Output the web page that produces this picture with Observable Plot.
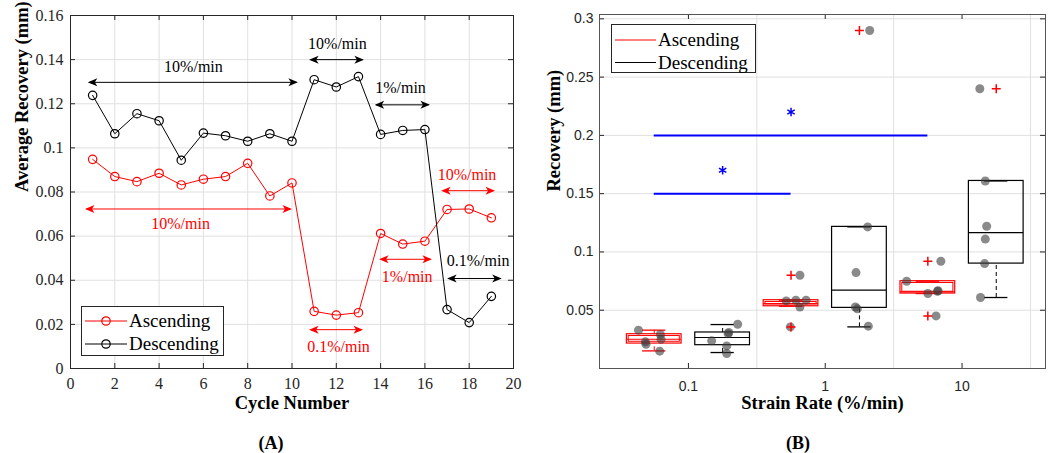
<!DOCTYPE html>
<html>
<head>
<meta charset="utf-8">
<script src="https://cdn.jsdelivr.net/npm/d3@7"></script>
<script src="https://cdn.jsdelivr.net/npm/@observablehq/plot@0.6"></script>
<style>
  body { margin: 0; background: #fff; }
  #wrap { position: relative; width: 1057px; height: 453px; overflow: hidden; font-family: "Liberation Serif", serif; background: #fff; }
  .panel { position: absolute; top: 0; }
  .legend { position: absolute; background: #fff; border: 1px solid #262626; box-sizing: border-box; }
  .legend svg { position: absolute; left: 0; top: 0; }
  .legend span { position: absolute; font-family: "Liberation Serif", serif; font-size: 19px; line-height: 22px; white-space: nowrap; color: #000; }
  .cap { position: absolute; top: 434px; font-family: "Liberation Serif", serif; font-weight: bold; font-size: 18px; line-height: 18px; transform: translateX(-50%); color: #000; }
</style>
</head>
<body>
<div id="wrap">
  <div class="panel" id="panelA" style="left:0px"></div>
  <div class="panel" id="panelB" style="left:530px"></div>

  <div class="legend" style="left:81px;top:306px;width:143px;height:50px;">
    <svg width="50" height="50">
      <line x1="3" x2="45" y1="14" y2="14" stroke="#ff0000" stroke-width="1"/>
      <circle cx="24" cy="14" r="4.2" fill="none" stroke="#ff0000" stroke-width="1.2"/>
      <line x1="3" x2="45" y1="37" y2="37" stroke="#000" stroke-width="1"/>
      <circle cx="24" cy="37" r="4.2" fill="none" stroke="#000" stroke-width="1.2"/>
    </svg>
    <span style="left:47px;top:3px">Ascending</span>
    <span style="left:47px;top:26px">Descending</span>
  </div>

  <div class="legend" style="left:611px;top:24px;width:145px;height:49px;">
    <svg width="50" height="49">
      <line x1="3" x2="44" y1="15" y2="15" stroke="#ff0000" stroke-width="1"/>
      <line x1="3" x2="44" y1="37.5" y2="37.5" stroke="#000" stroke-width="1"/>
    </svg>
    <span style="left:46px;top:4px">Ascending</span>
    <span style="left:46px;top:26.5px">Descending</span>
  </div>

  <div class="cap" style="left:271px">(A)</div>
  <div class="cap" style="left:798px">(B)</div>
</div>

<script>
// ---------------- Panel A data ----------------
const cycles = [1, 2, 3, 4, 5, 6, 7, 8, 9, 10, 11, 12, 13, 14, 15, 16, 17, 18, 19];
const ascending = [0.0948, 0.0870, 0.0847, 0.0885, 0.0832, 0.0858, 0.0870, 0.0930, 0.0782, 0.0841,
                   0.0259, 0.0242, 0.0253, 0.0612, 0.0564, 0.0577, 0.0721, 0.0723, 0.0683];
const descending = [0.1238, 0.1064, 0.1155, 0.1123, 0.0944, 0.1067, 0.1055, 0.1030, 0.1064, 0.1030,
                    0.1309, 0.1276, 0.1323, 0.1061, 0.1079, 0.1083, 0.0267, 0.0208, 0.0327];
const seriesNames = ["Ascending", "Descending"];
const seriesColors = ["#ff0000", "#000000"];

const arrowSeries = ["Descending", "Descending", "Descending", "Descending", "Ascending", "Ascending", "Ascending", "Ascending"];
const arrowStart = [0.85, 10.84, 13.8, 17.07, 0.72, 16.8, 14.0, 10.84];
const arrowEnd = [10.2, 13.18, 16.16, 19.4, 9.93, 19.1, 16.25, 13.14];
const arrowLevel = [0.1297, 0.140, 0.1195, 0.0408, 0.0723, 0.0806, 0.0495, 0.0176];
const rateText = ["10%/min", "10%/min", "1%/min", "0.1%/min", "10%/min", "10%/min", "1%/min", "0.1%/min"];
const rateTextX = [5.55, 12.05, 14.9, 18.4, 4.97, 17.9, 15.2, 12.1];
const rateTextY = [0.1367, 0.147, 0.127, 0.0488, 0.0655, 0.0877, 0.0415, 0.0100];

const xTicksA = [0, 2, 4, 6, 8, 10, 12, 14, 16, 18, 20];
const yTicksA = [0, 0.02, 0.04, 0.06, 0.08, 0.1, 0.12, 0.14, 0.16];
const yTickLabelsA = ["0", "0.02", "0.04", "0.06", "0.08", "0.1", "0.12", "0.14", "0.16"];

// ---------------- Panel B data ----------------
const boxPos = [1, 2, 3, 4, 5, 6];
const boxSeries = ["Ascending", "Descending", "Ascending", "Descending", "Ascending", "Descending"];
const boxQ1 = [0.0214, 0.0200, 0.0534, 0.0520, 0.0643, 0.0900];
const boxMedian = [0.0251, 0.0266, 0.0556, 0.0672, 0.0657, 0.1166];
const boxQ3 = [0.0294, 0.0309, 0.0586, 0.1215, 0.0749, 0.1609];
const whiskerLow = [0.0151, 0.0137, 0.0534, 0.0357, 0.0643, 0.0609];
const whiskerHigh = [0.0329, 0.0377, 0.0586, 0.1215, 0.0749, 0.1609];

const outlierPos = [3, 3, 4, 5, 5, 6];
const outlierValue = [0.080, 0.0357, 0.290, 0.092, 0.0451, 0.240];

const pointPos = [0.77, 0.87, 0.88, 1.09, 1.10, 1.08,
                  2.22, 2.09, 2.08, 1.84, 2.06, 2.06,
                  2.93, 3.07, 3.22, 3.13, 3.13, 2.99,
                  4.12, 3.95, 3.94, 3.97, 4.13, 4.15,
                  5.19, 4.69, 5.00, 5.14, 5.15, 5.12,
                  5.84, 5.86, 5.84, 5.83, 5.77, 5.76];
const pointValue = [0.0329, 0.0229, 0.0208, 0.0292, 0.0250, 0.0149,
                    0.0380, 0.0309, 0.0298, 0.0237, 0.0194, 0.0129,
                    0.0580, 0.0586, 0.0586, 0.0800, 0.0528, 0.0357,
                    0.1215, 0.0823, 0.0528, 0.0512, 0.0363, 0.2900,
                    0.0920, 0.0749, 0.0643, 0.0663, 0.0667, 0.0451,
                    0.1609, 0.1220, 0.1110, 0.0900, 0.0609, 0.2400];

const sigStart = [1, 1];
const sigEnd = [3, 5];
const sigLevel = [0.15, 0.20];
const starPos = [2, 3];
const starValue = [0.17, 0.22];

const rateTickPos = [1.5, 3.5, 5.5];
const rateTickLabels = ["0.1", "1", "10"];
const gridPosB = [2.5, 4.5, 6.5];
const yTicksB = [0.05, 0.1, 0.15, 0.2, 0.25, 0.3];
const yTickLabelsB = ["0.05", "0.1", "0.15", "0.2", "0.25", "0.3"];

// ---------------- tables ----------------
const tableA = [
  ...cycles.map((c, i) => ({cycle: c, value: ascending[i], series: "Ascending"})),
  ...cycles.map((c, i) => ({cycle: c, value: descending[i], series: "Descending"}))
];
const arrows = arrowStart.map((s, i) => ({x1: s, x2: arrowEnd[i], y: arrowLevel[i], series: arrowSeries[i],
  text: rateText[i], tx: rateTextX[i], ty: rateTextY[i]}));
const boxes = boxPos.map((p, i) => ({pos: p, series: boxSeries[i], q1: boxQ1[i], med: boxMedian[i], q3: boxQ3[i],
  lo: whiskerLow[i], hi: whiskerHigh[i]}));
const outliers = outlierPos.map((p, i) => ({pos: p, value: outlierValue[i]}));
const points = pointPos.map((p, i) => ({pos: p, value: pointValue[i]}));
const sigs = sigStart.map((s, i) => ({x1: s, x2: sigEnd[i], y: sigLevel[i]}));
const stars = starPos.map((p, i) => ({pos: p, value: starValue[i]}));

const serif = "Liberation Serif, Times New Roman, serif";
const axisColor = "#262626";
const gridColor = "#e0e0e0";

// ---------------- Panel A ----------------
const WA = 530, HA = 425, mLA = 70, mRA = 17, mTA = 15, mBA = 57;
const phA = HA - mTA - mBA, pwA = WA - mLA - mRA;
const plotA = Plot.plot({
  width: WA, height: HA,
  marginLeft: mLA, marginRight: mRA, marginTop: mTA, marginBottom: mBA,
  style: {fontFamily: serif, fontSize: "16px", color: axisColor, background: "white"},
  x: {domain: [0, 20], ticks: xTicksA, tickSize: 0, tickPadding: 9, label: null},
  y: {domain: [0, 0.16], ticks: yTicksA, tickFormat: d => yTickLabelsA[yTicksA.indexOf(d)], tickSize: 0, tickPadding: 7, label: null},
  color: {domain: seriesNames, range: seriesColors},
  marks: [
    Plot.ruleX(xTicksA, {x: d => d, stroke: gridColor}),
    Plot.ruleY(yTicksA, {y: d => d, stroke: gridColor}),
    Plot.ruleX(xTicksA, {x: d => d, stroke: axisColor, insetBottom: phA - 5}),
    Plot.ruleX(xTicksA, {x: d => d, stroke: axisColor, insetTop: phA - 5}),
    Plot.ruleY(yTicksA, {y: d => d, stroke: axisColor, insetRight: pwA - 5}),
    Plot.ruleY(yTicksA, {y: d => d, stroke: axisColor, insetLeft: pwA - 5}),
    Plot.line(tableA, {x: "cycle", y: "value", stroke: "series", strokeWidth: 1}),
    Plot.dot(tableA, {x: "cycle", y: "value", stroke: "series", r: 4.2, fill: "none", strokeWidth: 1.2}),
    Plot.link(arrows, {x1: "x1", x2: "x2", y1: "y", y2: "y", stroke: "series", strokeWidth: 1}),
    Plot.text(arrows, {x: "tx", y: "ty", text: "text", fill: "series", fontSize: 16, fontFamily: serif}),
    Plot.frame({stroke: axisColor}),
    Plot.text(["Cycle Number"], {frameAnchor: "bottom", dy: 40, text: d => d, fontFamily: serif, fontWeight: "bold", fontSize: 18.5, fill: "#000"}),
    Plot.text(["Average Recovery (mm)"], {frameAnchor: "left", dx: -48, rotate: -90, text: d => d, fontFamily: serif, fontWeight: "bold", fontSize: 18.5, fill: "#000"})
  ]
});
document.getElementById("panelA").appendChild(plotA);

// custom filled double arrowheads
(function () {
  const svg = plotA.tagName.toLowerCase() === "svg" ? plotA : plotA.querySelector("svg");
  const ns = "http://www.w3.org/2000/svg";
  const defs = document.createElementNS(ns, "defs");
  svg.insertBefore(defs, svg.firstChild);
  const made = {};
  let k = 0;
  svg.querySelectorAll('g[aria-label="link"] path').forEach(p => {
    const col = p.getAttribute("stroke") || p.parentNode.getAttribute("stroke") || "#000";
    if (!made[col]) {
      const id = "arrowhead" + (k++);
      const m = document.createElementNS(ns, "marker");
      m.setAttribute("id", id);
      m.setAttribute("viewBox", "-9 -4.5 10.5 9");
      m.setAttribute("refX", "0");
      m.setAttribute("refY", "0");
      m.setAttribute("markerWidth", "10.5");
      m.setAttribute("markerHeight", "9");
      m.setAttribute("markerUnits", "userSpaceOnUse");
      m.setAttribute("orient", "auto-start-reverse");
      const path = document.createElementNS(ns, "path");
      path.setAttribute("d", "M1.5,0L-8,-4L-5.5,0L-8,4Z");
      path.setAttribute("fill", col);
      m.appendChild(path);
      defs.appendChild(m);
      made[col] = id;
    }
    p.setAttribute("marker-start", `url(#${made[col]})`);
    p.setAttribute("marker-end", `url(#${made[col]})`);
  });
})();

// ---------------- Panel B ----------------
const WB = 527, HB = 425, mLB = 69, mRB = 12, mTB = 14, mBB = 57;
const phB = HB - mTB - mBB, pwB = WB - mLB - mRB;
const half = 0.4, cap = 0.17;
const plotB = Plot.plot({
  width: WB, height: HB,
  marginLeft: mLB, marginRight: mRB, marginTop: mTB, marginBottom: mBB,
  style: {fontFamily: "Liberation Sans, Arial, sans-serif", fontSize: "14px", color: axisColor, background: "white"},
  x: {domain: [0.2, 6.72], ticks: rateTickPos, tickFormat: d => rateTickLabels[rateTickPos.indexOf(d)], tickSize: 0, tickPadding: 13, label: null},
  y: {domain: [0, 0.3037], ticks: yTicksB, tickFormat: d => yTickLabelsB[yTicksB.indexOf(d)], tickSize: 0, tickPadding: 6, label: null},
  color: {domain: seriesNames, range: seriesColors},
  marks: [
    Plot.ruleX(gridPosB, {x: d => d, stroke: gridColor}),
    Plot.ruleY(yTicksB, {y: d => d, stroke: gridColor}),
    Plot.ruleX(rateTickPos, {x: d => d, stroke: axisColor, insetBottom: phB - 5}),
    Plot.ruleX(rateTickPos, {x: d => d, stroke: axisColor, insetTop: phB - 5}),
    Plot.ruleY(yTicksB, {y: d => d, stroke: axisColor, insetRight: pwB - 5}),
    Plot.ruleY(yTicksB, {y: d => d, stroke: axisColor, insetLeft: pwB - 5}),
    // whiskers
    Plot.ruleX(boxes, {x: "pos", y1: "q3", y2: "hi", stroke: "series", strokeDasharray: "4,3"}),
    Plot.ruleX(boxes, {x: "pos", y1: "lo", y2: "q1", stroke: "series", strokeDasharray: "4,3"}),
    Plot.ruleY(boxes, {y: "hi", x1: d => d.pos - cap, x2: d => d.pos + cap, stroke: "series", strokeWidth: 1.3}),
    Plot.ruleY(boxes, {y: "lo", x1: d => d.pos - cap, x2: d => d.pos + cap, stroke: "series", strokeWidth: 1.3}),
    // boxes
    Plot.rect(boxes, {x1: d => d.pos - half, x2: d => d.pos + half, y1: "q1", y2: "q3", stroke: "series", fill: "none", strokeWidth: 1.2}),
    Plot.rect(boxes.filter(d => d.series === "Ascending"), {x1: d => d.pos - half, x2: d => d.pos + half, y1: "q1", y2: "q3", stroke: "series", fill: "none", strokeWidth: 1, inset: 1.8}),
    Plot.ruleY(boxes, {y: "med", x1: d => d.pos - half, x2: d => d.pos + half, stroke: "series", strokeWidth: 1.2}),
    // data points
    Plot.dot(points, {x: "pos", y: "value", r: 4.5, fill: "#3c3c3c", fillOpacity: 0.6}),
    // outliers
    Plot.dot(outliers, {x: "pos", y: "value", symbol: "plus", r: 3, stroke: "#ff0000", strokeWidth: 1.5}),
    // significance
    Plot.ruleY(sigs, {y: "y", x1: "x1", x2: "x2", stroke: "#0000ff", strokeWidth: 2}),
    Plot.dot(stars, {x: "pos", y: "value", symbol: "asterisk", r: 4, stroke: "#0000ff", strokeWidth: 1.5}),
    Plot.frame({stroke: "#555"}),
    Plot.text(["Strain Rate (%/min)"], {frameAnchor: "bottom", dy: 40, text: d => d, fontFamily: serif, fontWeight: "bold", fontSize: 18.5, fill: "#000"}),
    Plot.text(["Recovery (mm)"], {frameAnchor: "left", dx: -45, rotate: -90, text: d => d, fontFamily: serif, fontWeight: "bold", fontSize: 18.5, fill: "#000"})
  ]
});
document.getElementById("panelB").appendChild(plotB);
</script>
</body>
</html>
